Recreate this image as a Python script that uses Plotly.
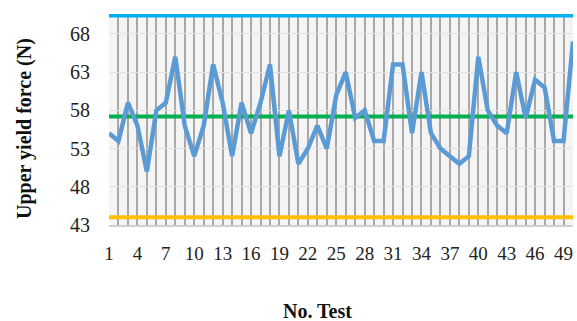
import plotly.graph_objects as go

tests = list(range(1, 51))
upper_yield_force = [55, 54, 59, 56, 50, 58, 59, 65, 56, 52,
                     56, 64, 59, 52, 59, 55, 59, 64, 52, 58,
                     51, 53, 56, 53, 60, 63, 57, 58, 54, 54,
                     64, 64, 55, 63, 55, 53, 52, 51, 52, 65,
                     58, 56, 55, 63, 57, 62, 61, 54, 54, 67]
ucl = 70.4
center = 57.2
lcl = 44.0
x_tick_labels = [str(t) if (t - 1) % 3 == 0 else "" for t in tests]
y_ticks = [43, 48, 53, 58, 63, 68]

W, H = 577, 321
L, R, T, B = 109, 4, 14, 96

fig = go.Figure()
fig.add_trace(go.Scatter(x=tests, y=[ucl] * len(tests), mode="lines",
                         line=dict(color="#00b0f0", width=4), cliponaxis=False))
fig.add_trace(go.Scatter(x=tests, y=[center] * len(tests), mode="lines",
                         line=dict(color="#00b050", width=4), cliponaxis=False))
fig.add_trace(go.Scatter(x=tests, y=[lcl] * len(tests), mode="lines",
                         line=dict(color="#ffc000", width=4), cliponaxis=False))
fig.add_trace(go.Scatter(x=tests, y=upper_yield_force, mode="lines",
                         line=dict(color="#5b9bd5", width=4.5), cliponaxis=False))

serif = "Liberation Serif, Times New Roman, serif"
xfont = dict(family=serif, size=19, color="#222")
yfont = dict(family=serif, size=20, color="#222")
tfont = dict(family=serif, size=20, color="#111")

pw = W - L - R
ph = H - T - B

def px_x(x):
    return (x - L) / pw

def px_y(y):
    return (H - B - y) / ph

fig.update_layout(
    width=W, height=H,
    margin=dict(l=L, r=R, t=T, b=B),
    paper_bgcolor="white",
    plot_bgcolor="#f4f4f4",
    showlegend=False,
    xaxis=dict(
        range=[1, 50], tickmode="array", tickvals=tests, ticktext=x_tick_labels,
        showgrid=True, gridcolor="#a8a8a8", gridwidth=2,
        showline=True, linecolor="#d0d0d0", linewidth=2,
        ticks="", zeroline=False, tickfont=xfont, ticklabelstandoff=10,
    ),
    yaxis=dict(
        range=[43, 70.6], tickmode="array", tickvals=y_ticks,
        showgrid=True, gridcolor="#e2e2e2", gridwidth=1,
        ticks="", zeroline=False, tickfont=yfont, ticklabelstandoff=18,
    ),
    annotations=[
        dict(text="<b>No. Test</b>", x=px_x(317), y=px_y(311),
             xref="paper", yref="paper", xanchor="center", yanchor="middle",
             showarrow=False, font=tfont),
        dict(text="<b>Upper yield force (N)</b>", x=px_x(24), y=px_y(129),
             xref="paper", yref="paper", xanchor="center", yanchor="middle",
             textangle=-90, showarrow=False, font=tfont),
    ],
)

fig.write_html("out.html", config={"displayModeBar": False},
               post_script="document.body.style.margin='0';document.body.style.overflow='hidden';")
